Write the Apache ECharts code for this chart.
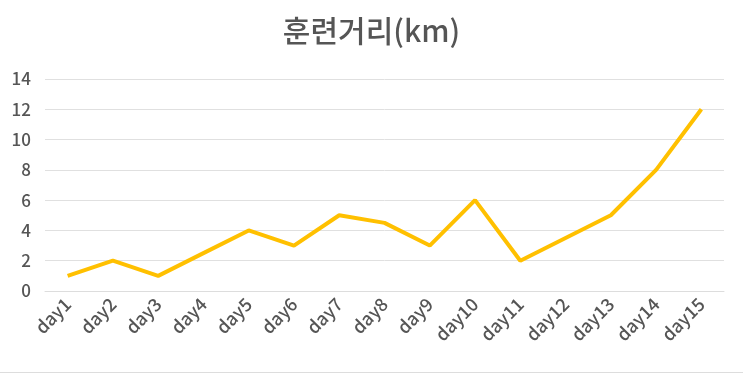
<!DOCTYPE html>
<html><head><meta charset="utf-8">
<script src="https://cdn.jsdelivr.net/npm/echarts@6/dist/echarts.min.js"></script>
<style>html,body{margin:0;padding:0;background:#fff;}#c{width:743px;height:372px;border-bottom:1px solid #ddd;}</style>
</head><body><div id="c"></div>
<script>
const categories = ['day1','day2','day3','day4','day5','day6','day7','day8','day9','day10','day11','day12','day13','day14','day15'];
const distances = [1, 2, 1, 2.5, 4, 3, 5, 4.5, 3, 6, 2, 3.5, 5, 8, 12];
const titleText = '훈련거리(km)';
const FONT = '"Noto Sans CJK KR", "Noto Sans", sans-serif';
const chart = echarts.init(document.getElementById('c'));
chart.setOption({
  animation: false,
  title: { text: titleText, left: 'center', top: 11, textStyle: { fontFamily: FONT, fontSize: 30, fontWeight: 500, color: '#555' } },
  grid: { left: 45, right: 19, top: 79, bottom: 81 },
  xAxis: {
    type: 'category', data: categories, boundaryGap: true,
    axisLine: { lineStyle: { color: '#ddd' } }, axisTick: { show: false },
    axisLabel: { rotate: 45, color: '#555', fontSize: 18, fontWeight: 500, fontFamily: FONT, margin: 10, interval: 0 }
  },
  yAxis: {
    type: 'value', min: 0, max: 14, interval: 2,
    axisLine: { show: false }, axisTick: { show: false },
    splitLine: { lineStyle: { color: '#e0e0e0' } },
    axisLabel: { color: '#555', fontSize: 17, fontWeight: 500, fontFamily: FONT, margin: 14 }
  },
  series: [{ type: 'line', data: distances, showSymbol: false, lineStyle: { color: '#FFC000', width: 4 }, itemStyle: { color: '#FFC000' } }]
});
</script></body></html>
